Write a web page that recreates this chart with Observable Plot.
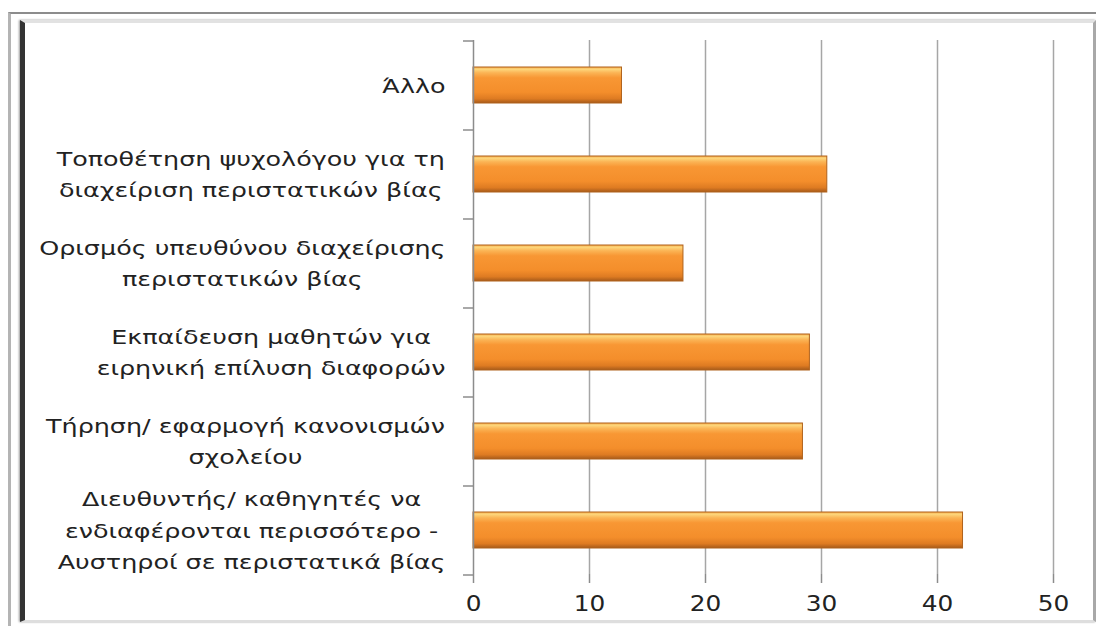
<!DOCTYPE html>
<html>
<head>
<meta charset="utf-8">
<script src="https://cdn.jsdelivr.net/npm/d3@7"></script>
<script src="https://cdn.jsdelivr.net/npm/@observablehq/plot@0.6"></script>
<style>
  html, body { margin: 0; padding: 0; background: #fff; }
  #wrap { position: relative; width: 1096px; height: 626px; overflow: hidden; background: #fff; }
  .outer { position: absolute; left: 8px; top: 12px; width: 1100px; height: 640px;
           border-top: 2px solid #8c8c8c; border-left: 3px solid #b4b4b4; }
  .inner { position: absolute; left: 20px; top: 20px; width: 1068px; height: 597px;
           border-top: 3px solid #e2e2e2; border-right: 3px solid #a8a8a8; border-bottom: 2px solid #dedede;
           border-left: 5px solid #333; box-shadow: -1px 0 2px #999; }
  #chart { position: absolute; left: 0; top: 0; }
</style>
</head>
<body>
<div id="wrap">
  <div class="outer"></div>
  <div class="inner"></div>
  <div id="chart"></div>
</div>
<script>
const categories = [
  "Άλλο",
  "Τοποθέτηση ψυχολόγου για τη\nδιαχείριση περιστατικών βίας",
  "Ορισμός υπευθύνου διαχείρισης\nπεριστατικών βίας",
  "Εκπαίδευση μαθητών για\nειρηνική επίλυση διαφορών",
  "Τήρηση/ εφαρμογή κανονισμών\nσχολείου",
  "Διευθυντής/ καθηγητές να\nενδιαφέρονται περισσότερο -\nΑυστηροί σε περιστατικά βίας"
];
const values = [12.8, 30.5, 18.1, 29.0, 28.4, 42.2];
const xTicks = [0, 10, 20, 30, 40, 50];

const data = categories.map((c, i) => ({label: c, value: values[i]}));

const W = 1096, H = 626;
const mTop = 40, mBottom = 52, mLeft = 473, mRight = 43;
const step = (H - mTop - mBottom) / categories.length;
const FONT = "DejaVu Sans";
const STRETCH_Y = 1.27;   // horizontal stretch of category labels
const STRETCH_X = 1.18;   // horizontal stretch of value tick labels

const defs = () => {
  const d = d3.create("svg:defs");
  const g = d.append("linearGradient").attr("id", "barGrad").attr("x1", 0).attr("y1", 0).attr("x2", 0).attr("y2", 1);
  [["0%", "#f6a847"], ["6%", "#fdd77c"], ["16%", "#fbb455"], ["30%", "#f89734"], ["70%", "#f48e2b"], ["88%", "#de7b22"], ["100%", "#a65a1a"]]
    .forEach(([o, c]) => g.append("stop").attr("offset", o).attr("stop-color", c));
  const f = d.append("filter").attr("id", "shadow").attr("x", "-5%").attr("y", "-30%").attr("width", "110%").attr("height", "170%");
  f.append("feDropShadow").attr("dx", 1).attr("dy", 3).attr("stdDeviation", 2).attr("flood-color", "#000").attr("flood-opacity", 0.3);
  return d.node();
};

const chart = Plot.plot({
  width: W,
  height: H,
  marginTop: mTop,
  marginBottom: mBottom,
  marginLeft: mLeft,
  marginRight: mRight,
  style: {fontFamily: FONT, fontSize: "20px", color: "#222", background: "transparent", overflow: "visible"},
  x: {domain: [0, 50], ticks: xTicks, label: null},
  y: {domain: categories, paddingInner: 0.6, paddingOuter: 0.3, label: null},
  marks: [
    defs,
    Plot.ruleX(xTicks.slice(1), {stroke: "#a6a6a6", strokeWidth: 1.5}),
    Plot.barX(data, {x: "value", y: "label", fill: "url(#barGrad)", stroke: "#b0621c", strokeWidth: 1, ariaLabel: "bars"}),
    Plot.ruleX([0], {stroke: "#8c8c8c", strokeWidth: 1.5}),
    Plot.ruleY([0], {frameAnchor: "bottom", stroke: "#8c8c8c", strokeWidth: 1.5}),
    Plot.axisX(xTicks, {tickSize: 9, tickPadding: 13, stroke: "#8c8c8c", strokeWidth: 1.5, fontSize: 21, fill: "#222", label: null}),
    Plot.axisY(categories, {tickSize: 10, tickFormat: () => "", dy: step / 2, stroke: "#8c8c8c", strokeWidth: 1.5, label: null}),
    Plot.axisY(categories.slice(0, 1), {tickSize: 10, tickFormat: () => "", dy: -step / 2, stroke: "#8c8c8c", strokeWidth: 1.5, label: null}),
    Plot.axisY(categories, {tickSize: 0, tickPadding: 28, dy: -3, fontSize: 20, lineHeight: 1.58, fill: "#222", textAnchor: "end", label: null})
  ]
});

document.getElementById("chart").appendChild(chart);

// soft drop shadow under the bars
d3.select(chart).selectAll('g[aria-label="bars"]').attr("filter", "url(#shadow)");

// category labels: centre the lines within each block, block right-aligned, stretched horizontally
d3.select(chart).selectAll('g[aria-label="y-axis tick label"] text').each(function () {
  const w = this.getBBox().width;
  if (!w) return;
  const t = d3.select(this).attr("text-anchor", "middle");
  const spans = t.selectAll("tspan");
  if (spans.size()) spans.attr("x", -w / 2);
  else t.attr("x", -w / 2);
  t.attr("transform", (t.attr("transform") || "") + ` scale(${STRETCH_Y},1)`);
});

// value tick labels: horizontal stretch
d3.select(chart).selectAll('g[aria-label="x-axis tick label"] text').each(function () {
  const t = d3.select(this);
  t.attr("transform", (t.attr("transform") || "") + ` scale(${STRETCH_X},1)`);
});
</script>
</body>
</html>
